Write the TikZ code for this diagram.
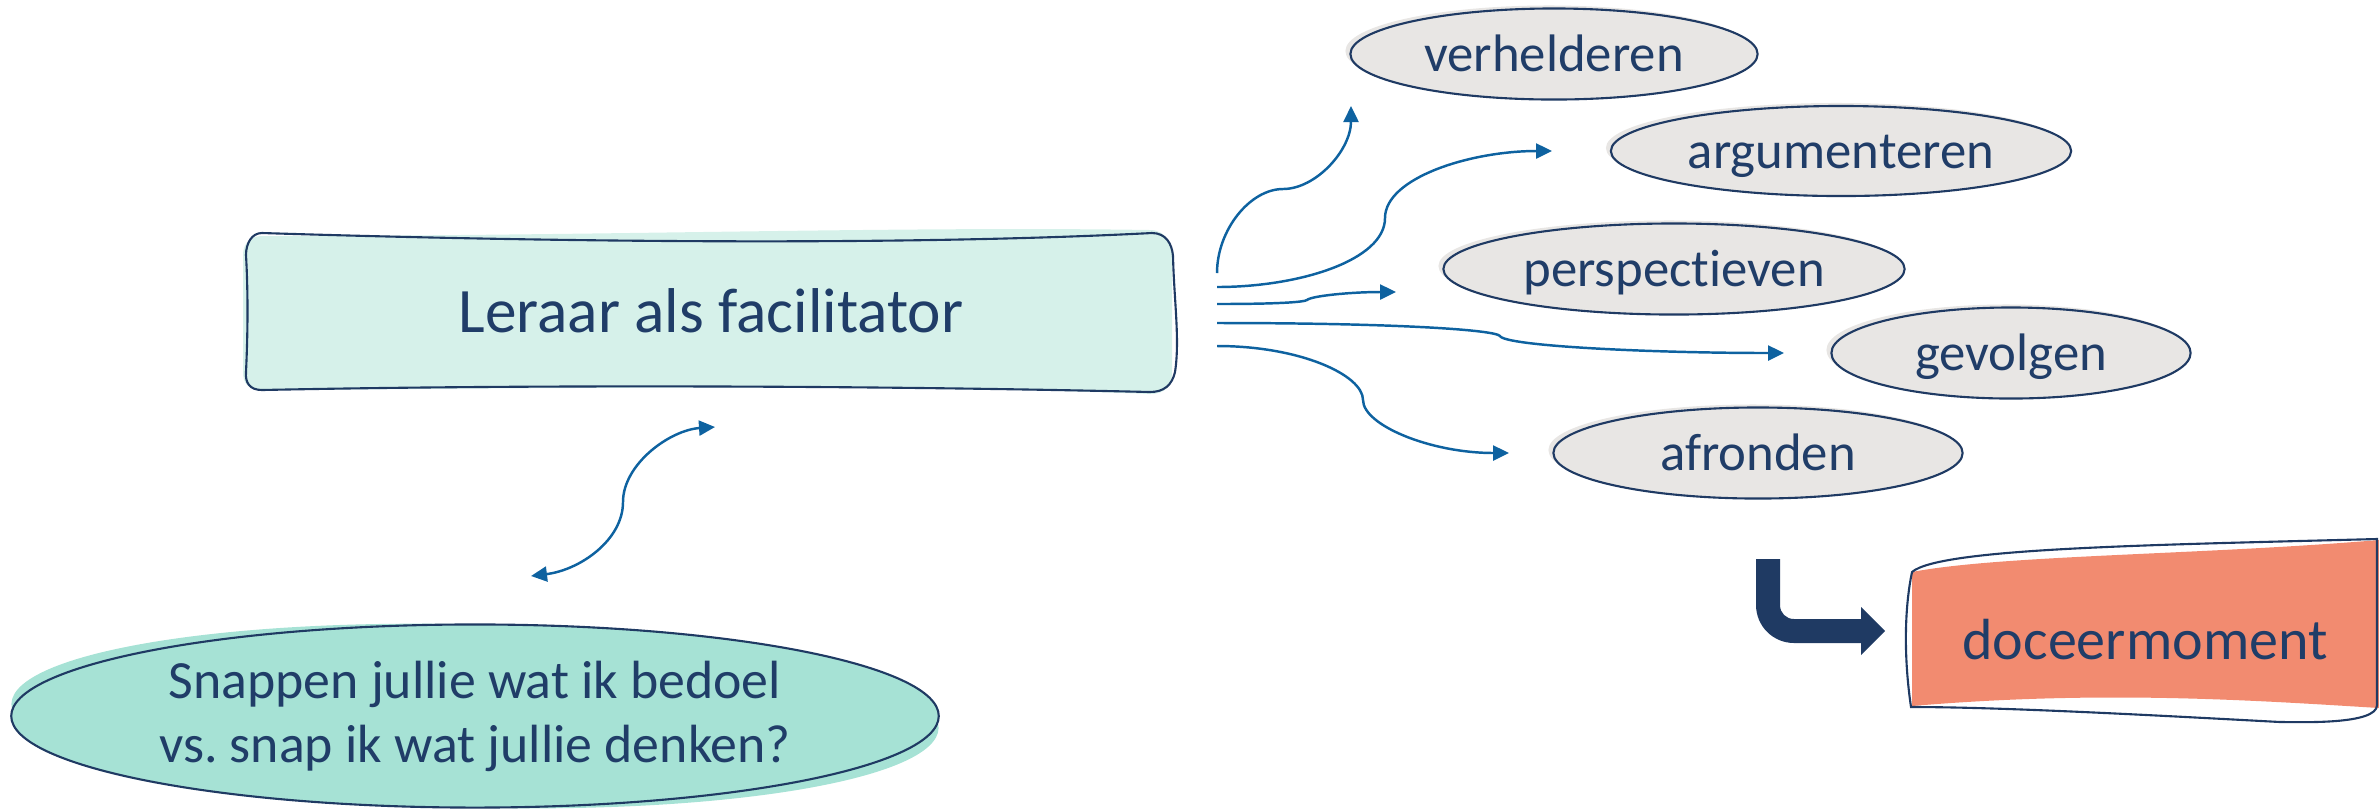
\documentclass[tikz,border=0pt]{standalone}
\usepackage{fontspec}
\setmainfont{Carlito}[Ligatures={NoCommon}]
\usetikzlibrary{arrows.meta,shapes.geometric,positioning,calc}
\definecolor{navy}{HTML}{1F3A63}
\definecolor{navytxt}{HTML}{203D68}
\definecolor{connblue}{HTML}{0E62A0}
\definecolor{mint}{HTML}{D6F1EA}
\definecolor{snapfill}{HTML}{A6E2D5}
\definecolor{ovalgray}{HTML}{E8E6E4}
\definecolor{salmon}{HTML}{F28B70}
\frenchspacing

\begin{document}
\begin{tikzpicture}[x=0.01cm,y=-0.01cm,
  txt/.style={text=navytxt,inner sep=0pt},
  oval/.style={ellipse,draw=navy,line width=0.6pt,fill=ovalgray,inner sep=0pt,
    text=navytxt,font=\fontsize{15}{18}\selectfont,text height=11pt,text depth=1pt,
    preaction={fill=ovalgray,transform canvas={shift={(-5,-3)}}}},
  outline/.style={draw=navy,line width=0.6pt},
  conn/.style={draw=connblue,line width=0.7pt,-{Triangle[length=0.16cm,width=0.15cm]}},
  biconn/.style={draw=connblue,line width=0.7pt,{Triangle[length=0.16cm,width=0.15cm]}-{Triangle[length=0.16cm,width=0.15cm]}}]
\useasboundingbox (0,0) rectangle (2379,808);

% main box
\fill[mint] (262,236) .. controls (600,236) and (900,226) .. (1150,230) .. controls (1166,230) and (1172,244) .. (1172,256) -- (1172,372) .. controls (1172,385) and (1166,394) .. (1150,394) .. controls (900,384) and (600,388) .. (262,390) .. controls (248,390) and (243,383) .. (243,372) -- (243,255) .. controls (243,244) and (250,236) .. (262,236) -- cycle;
\draw[outline] (262,233) .. controls (550,242) and (900,246) .. (1152,233) .. controls (1166,233) and (1172,244) .. (1173,256) .. controls (1174,300) and (1180,340) .. (1175,372) .. controls (1172,385) and (1164,392) .. (1150,392) .. controls (900,386) and (550,384) .. (262,390) .. controls (250,390) and (245,383) .. (246,372) .. controls (248,330) and (248,290) .. (246,255) .. controls (246,243) and (252,233) .. (262,233) -- cycle;
\node[txt,anchor=base,font=\fontsize{18}{22}\selectfont] (leraar) at (711,332) {Leraar als facilitator};

% question
\node[ellipse,draw=navy,line width=0.6pt,fill=snapfill,inner sep=0pt,minimum width=9.27cm,minimum height=1.83cm,
  text=navytxt,align=center,font=\fontsize{15.3}{18.2}\selectfont,
  preaction={fill=snapfill,transform canvas={rotate around={-1.5:(475,716)}}}] (snappen) at (475,716)
  {Snappen jullie wat ik bedoel\\vs. snap ik wat jullie denken?};

\coordinate (boxend) at (715,427);
\coordinate (snapend) at (531,576);
\draw[biconn] (snapend) .. controls (580,570) and (623,540) .. (623,502) .. controls (623,464) and (670,430) .. (boxend);

% ovals
\node[oval,minimum width=4.07cm,minimum height=0.91cm] (verhelderen) at (1554,54) {verhelderen};
\node[oval,minimum width=4.60cm,minimum height=0.90cm] (argumenteren) at (1841,151) {argumenteren};
\node[oval,minimum width=4.61cm,minimum height=0.91cm] (perspectieven) at (1674,269) {perspectieven};
\node[oval,minimum width=3.59cm,minimum height=0.91cm] (gevolgen) at (2011,353) {gevolgen};
\node[oval,minimum width=4.09cm,minimum height=0.91cm] (afronden) at (1758,453) {afronden};

\coordinate (fanA) at (1217,273);
\coordinate (fanB) at (1217,287);
\coordinate (fanC) at (1217,304);
\coordinate (fanD) at (1217,323);
\coordinate (fanE) at (1217,346);
\coordinate (tipA) at (1351,106);
\coordinate (tipB) at (1552,151);
\coordinate (tipC) at (1396,292);
\coordinate (tipD) at (1784,353);
\coordinate (tipE) at (1509,453);
\draw[conn] (fanA) .. controls (1217,230) and (1250,189) .. (1283,189) .. controls (1316,189) and (1351,150) .. (tipA);
\draw[conn] (fanB) .. controls (1300,287) and (1385,260) .. (1385,218) .. controls (1385,178) and (1470,151) .. (tipB);
\draw[conn] (fanC) .. controls (1280,304) and (1304,302) .. (1307,300) .. controls (1311,296) and (1350,292) .. (tipC);
\draw[conn] (fanD) .. controls (1400,323) and (1495,330) .. (1500,336) .. controls (1505,346) and (1650,353) .. (tipD);
\draw[conn] (fanE) .. controls (1300,346) and (1363,375) .. (1363,400) .. controls (1363,425) and (1430,453) .. (tipE);

% doceermoment
\fill[salmon] (1912,572) .. controls (2000,555) and (2200,555) .. (2379,540) -- (2379,708) .. controls (2250,700) and (2100,690) .. (1912,706) -- cycle;
\draw[outline] (1912,572) .. controls (1940,548) and (2150,545) .. (2377,539) -- (2377,705) .. controls (2377,725) and (2300,722) .. (2280,722) .. controls (2150,715) and (2000,707) .. (1911,707) .. controls (1904,660) and (1904,610) .. (1912,572) -- cycle;
\node[txt,anchor=base,font=\fontsize{16.5}{20}\selectfont] (doceer) at (2145,659) {doceermoment};
\fill[navy] (1756,559) -- (1756,605) .. controls (1756,626) and (1773,643) .. (1794,643) -- (1861,643) -- (1861,655) -- (1885,631) -- (1861,607) -- (1861,619) -- (1794,619) .. controls (1786,619) and (1780,613) .. (1780,605) -- (1780,559) -- cycle;
\end{tikzpicture}
\end{document}
